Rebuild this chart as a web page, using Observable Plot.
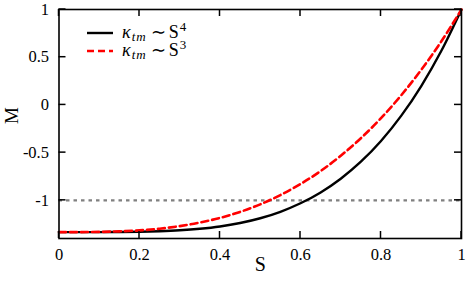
<!DOCTYPE html>
<html><head><meta charset="utf-8">
<script src="https://cdn.jsdelivr.net/npm/d3@7"></script>
<script src="https://cdn.jsdelivr.net/npm/@observablehq/plot@0.6"></script>
<style>
body{margin:0;background:#fff;}
#chart svg{font-family:"Liberation Serif",serif;}
</style></head>
<body><div id="chart"></div>
<script>
const S = [0,0.05,0.1,0.15,0.2,0.25,0.3,0.35,0.4,0.45,0.5,0.55,0.6,0.65,0.7,0.75,0.8,0.85,0.9,0.95,1];
const M_S4 = [-1.333,-1.333,-1.333,-1.332,-1.330,-1.324,-1.314,-1.298,-1.274,-1.238,-1.188,-1.120,-1.031,-0.917,-0.773,-0.595,-0.378,-0.115,0.198,0.567,1];
const M_S3 = [-1.333,-1.333,-1.331,-1.325,-1.315,-1.297,-1.270,-1.233,-1.184,-1.121,-1.042,-0.945,-0.829,-0.693,-0.533,-0.349,-0.139,0.100,0.368,0.667,1];
const xTicks = [0,0.2,0.4,0.6,0.8,1];
const yTicks = [-1,-0.5,0,0.5,1];
const threshold = [-1];

const d4 = S.map((s,i)=>({S:s,M:M_S4[i]}));
const d3s = S.map((s,i)=>({S:s,M:M_S3[i]}));
const fmt = d => String(d);

const plot = Plot.plot({
  width:468, height:282,
  marginLeft:58.5, marginRight:7, marginTop:9, marginBottom:44,
  style:{fontFamily:"Liberation Serif, serif", fontSize:"16px", background:"white", color:"black"},
  x:{domain:[0,1]},
  y:{domain:[-1.4,1]},
  marks:[
    Plot.ruleY(threshold,{stroke:"#808080",strokeWidth:2.2,strokeDasharray:"3.5,4"}),
    Plot.line(d4,{x:"S",y:"M",stroke:"black",strokeWidth:2.4,curve:"monotone-x"}),
    Plot.line(d3s,{x:"S",y:"M",stroke:"#ff0000",strokeWidth:2.6,strokeDasharray:"7,4",curve:"monotone-x"}),
    Plot.axisX({anchor:"bottom",ticks:xTicks,tickSize:0,tickPadding:10,tickFormat:fmt,label:null,fontSize:16.5}),
    Plot.axisY({anchor:"left",ticks:yTicks,tickSize:0,tickPadding:10,tickFormat:fmt,label:null,fontSize:16.5}),
    Plot.frame({stroke:"black",strokeWidth:1.6}),
    Plot.text(["S"],{frameAnchor:"bottom",dy:32,text:d=>d,fontSize:20}),
    Plot.text(["M"],{frameAnchor:"left",dx:-47,rotate:-90,text:d=>d,fontSize:19})
  ]
});
document.getElementById("chart").appendChild(plot);

const svg = d3.select(plot);
const xs = plot.scale("x"), ys = plot.scale("y");
const x0 = xs.apply(0), x1 = xs.apply(1), yTop = ys.apply(1), yBot = ys.apply(-1.4);
// inward mirrored ticks
const tg = svg.append("g").attr("stroke","black").attr("stroke-width",1.5);
xTicks.forEach(t=>{
  const px = xs.apply(t);
  tg.append("line").attr("x1",px).attr("x2",px).attr("y1",yBot).attr("y2",yBot-7);
  tg.append("line").attr("x1",px).attr("x2",px).attr("y1",yTop).attr("y2",yTop+7);
});
yTicks.forEach(t=>{
  const py = ys.apply(t);
  tg.append("line").attr("y1",py).attr("y2",py).attr("x1",x0).attr("x2",x0+7);
  tg.append("line").attr("y1",py).attr("y2",py).attr("x1",x1).attr("x2",x1-7);
});

// in-plot legend
const g = svg.append("g").attr("font-family","Liberation Serif, serif").attr("font-size",18).attr("text-anchor","start");
const legend = [
  {exp:"4", stroke:"black", dash:null, w:2.4, y:33, base:37.5},
  {exp:"3", stroke:"#ff0000", dash:"7,4", w:2.6, y:51, base:56}
];
legend.forEach(l=>{
  g.append("line").attr("x1",87).attr("x2",113).attr("y1",l.y).attr("y2",l.y)
    .attr("stroke",l.stroke).attr("stroke-width",l.w).attr("stroke-dasharray",l.dash);
  const t = g.append("text").attr("x",122).attr("y",l.base).attr("fill","black").attr("text-anchor","start");
  t.append("tspan").attr("font-style","italic").text("κ");
  t.append("tspan").attr("font-style","italic").attr("font-size",13).attr("dx",1).attr("dy",3).attr("letter-spacing",1).text("tm");
  t.append("tspan").attr("dy",-3).attr("dx",4).text("∼");
  t.append("tspan").attr("dx",3).text("S");
  t.append("tspan").attr("font-size",13).attr("dx",1).attr("dy",-7).text(l.exp);
});
</script></body></html>
